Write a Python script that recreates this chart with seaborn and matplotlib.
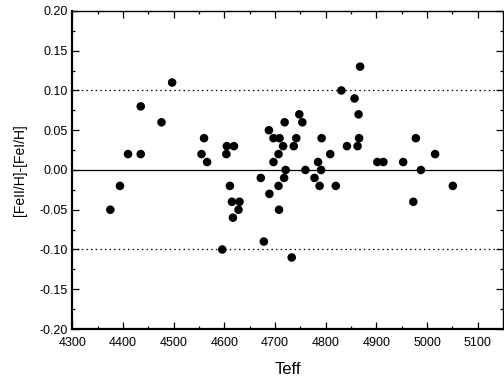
import matplotlib
matplotlib.use("Agg")
import matplotlib.pyplot as plt
from matplotlib.ticker import MultipleLocator
import seaborn as sns
import pandas as pd

teff = [4375, 4394, 4410, 4435, 4435, 4476, 4497, 4555, 4560, 4566,
        4596, 4604, 4605, 4611, 4615, 4617, 4619, 4628, 4630, 4672,
        4678, 4688, 4689, 4697, 4697, 4707, 4707, 4708, 4709, 4716,
        4718, 4719, 4721, 4733, 4737, 4742, 4748, 4754, 4760, 4778,
        4785, 4788, 4791, 4792, 4809, 4820, 4831, 4842, 4857, 4863,
        4865, 4866, 4868, 4902, 4914, 4953, 4973, 4978, 4988, 5016,
        5051]
dfe = [-0.05, -0.02, 0.02, 0.02, 0.08, 0.06, 0.11, 0.02, 0.04, 0.01,
       -0.10, 0.02, 0.03, -0.02, -0.04, -0.06, 0.03, -0.05, -0.04, -0.01,
       -0.09, 0.05, -0.03, 0.04, 0.01, 0.02, -0.02, -0.05, 0.04, 0.03,
       -0.01, 0.06, 0.00, -0.11, 0.03, 0.04, 0.07, 0.06, 0.00, -0.01,
       0.01, -0.02, 0.00, 0.04, 0.02, -0.02, 0.10, 0.03, 0.09, 0.03,
       0.07, 0.04, 0.13, 0.01, 0.01, 0.01, -0.04, 0.04, 0.00, 0.02,
       -0.02]

x_ticks = [4300, 4400, 4500, 4600, 4700, 4800, 4900, 5000, 5100]
y_ticks = [-0.20, -0.15, -0.10, -0.05, 0.00, 0.05, 0.10, 0.15, 0.20]
ref_levels = [-0.10, 0.10]

df = pd.DataFrame({"Teff": teff, "dFe": dfe})

sns.set_theme(style="ticks")
plt.rcParams["font.family"] = ["Liberation Sans", "DejaVu Sans"]

fig = plt.figure(figsize=(5.04, 3.77), dpi=100)
ax = fig.add_axes([0.1435, 0.1273, 0.8545, 0.8436])

ax.axhline(0.0, color="black", lw=0.9, zorder=1)
for lv in ref_levels:
    ax.axhline(lv, color="black", lw=0.9, ls=(0, (1.2, 2.5)), zorder=1)

sns.scatterplot(data=df, x="Teff", y="dFe", ax=ax, color="black",
                s=38, edgecolor="none", linewidth=0, zorder=3, legend=False)

ax.set_xlim(4300, 5150)
ax.set_ylim(-0.20, 0.20)
ax.set_xticks(x_ticks)
ax.set_yticks(y_ticks)
ax.set_xticklabels([str(v) for v in x_ticks])
ax.set_yticklabels([f"{v:.2f}" for v in y_ticks])
ax.xaxis.set_minor_locator(MultipleLocator(50))
ax.yaxis.set_minor_locator(MultipleLocator(0.025))

ax.tick_params(which="both", direction="in", top=True, right=True,
               labelsize=9, color="black", labelcolor="black", width=0.9)
ax.tick_params(which="major", length=5, pad=3)
ax.tick_params(which="minor", length=2.5)
ax.tick_params(axis="x", which="major", pad=6)

for sp in ax.spines.values():
    sp.set_color("black")
    sp.set_linewidth(1.0)
ax.spines["left"].set_linewidth(1.6)
ax.spines["bottom"].set_linewidth(1.6)

ax.set_xlabel("Teff", fontsize=12, color="black", labelpad=9)
ax.set_ylabel("[FeII/H]-[FeI/H]", fontsize=10, color="black", labelpad=9)

fig.savefig("out.png", dpi=100)
